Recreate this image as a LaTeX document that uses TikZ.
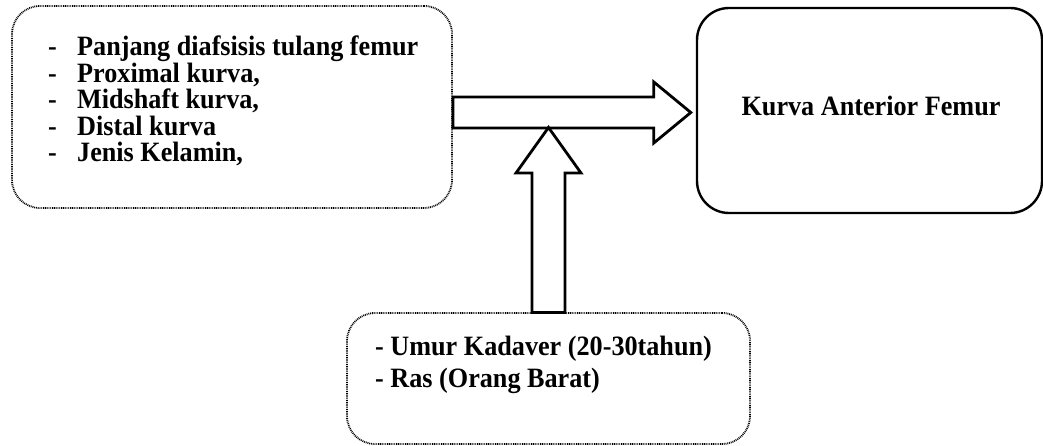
\documentclass[tikz,border=0pt]{standalone}
\usepackage{graphicx}
\usepackage{fontspec}
\setmainfont{Liberation Serif}
\newcommand{\bt}[1]{\scalebox{0.935}[1.0]{\bfseries #1}}
\begin{document}
\begin{tikzpicture}[x=1pt,y=1pt,
  dotbox/.style={draw=black, line width=1.8pt, dash pattern=on 0.9pt off 0.9pt, rounded corners=28pt, minimum width=#1, inner sep=0pt},
  solidbox/.style={draw=black, line width=2.4pt, rounded corners=32pt, inner sep=0pt},
  txt/.style={inner sep=0pt, font=\fontsize{28}{28}\selectfont, text height=19pt, text depth=6pt},
  blockarrow/.style={draw=black, line width=2.8pt, fill=white, line join=miter}]
\useasboundingbox (0,0) rectangle (1043,-446);
% boxes
\node[dotbox=440pt, minimum height=202pt] (left) at (232,-107) {};
\node[solidbox, minimum width=345pt, minimum height=205pt] (right) at (869.5,-110.5) {};
\node[dotbox=403pt, minimum height=131pt] (bottom) at (548.5,-378.5) {};
% left list
\foreach \t [count=\i] in {Panjang diafsisis tulang femur, {Proximal kurva,}, {Midshaft kurva,}, Distal kurva, {Jenis Kelamin,}}{
  \node[txt, anchor=base west] (d\i) at (48,{-56-26.5*(\i-1)}) {\bt{-}};
  \node[txt, anchor=base west] (l\i) at (77,{-56-26.5*(\i-1)}) {\bt{\t}};
}
% right text
\node[txt, anchor=base] (kurva) at (871,-116) {\bt{Kurva Anterior Femur}};
% bottom text
\node[txt, anchor=base west] (b1) at (375,-355) {\bt{- Umur Kadaver (20-30tahun)}};
\node[txt, anchor=base west] (b2) at (375,-387) {\bt{- Ras (Orang Barat)}};
% horizontal block arrow from left box to right box
\coordinate (hs) at (left.east |- 0,-112.5);
\coordinate (ht) at ([xshift=-5pt]right.west |- 0,-112.5);
\draw[blockarrow] ([yshift=15.5pt]hs) -- ([xshift=-37pt,yshift=15.5pt]ht) -- ([xshift=-37pt,yshift=30.5pt]ht)
  -- (ht) -- ([xshift=-37pt,yshift=-30.5pt]ht) -- ([xshift=-37pt,yshift=-15.5pt]ht) -- ([yshift=-15.5pt]hs) -- cycle;
% vertical block arrow from bottom box up to horizontal arrow
\coordinate (vs) at (548.5,-312.5);
\coordinate (vt) at (548.5,-127.5);
\draw[blockarrow] ([xshift=-16.5pt]vs) -- ([xshift=-16.5pt,yshift=-45.5pt]vt) -- ([xshift=-32.5pt,yshift=-45.5pt]vt)
  -- (vt) -- ([xshift=32.5pt,yshift=-45.5pt]vt) -- ([xshift=16.5pt,yshift=-45.5pt]vt) -- ([xshift=16.5pt]vs) -- cycle;
\end{tikzpicture}
\end{document}
